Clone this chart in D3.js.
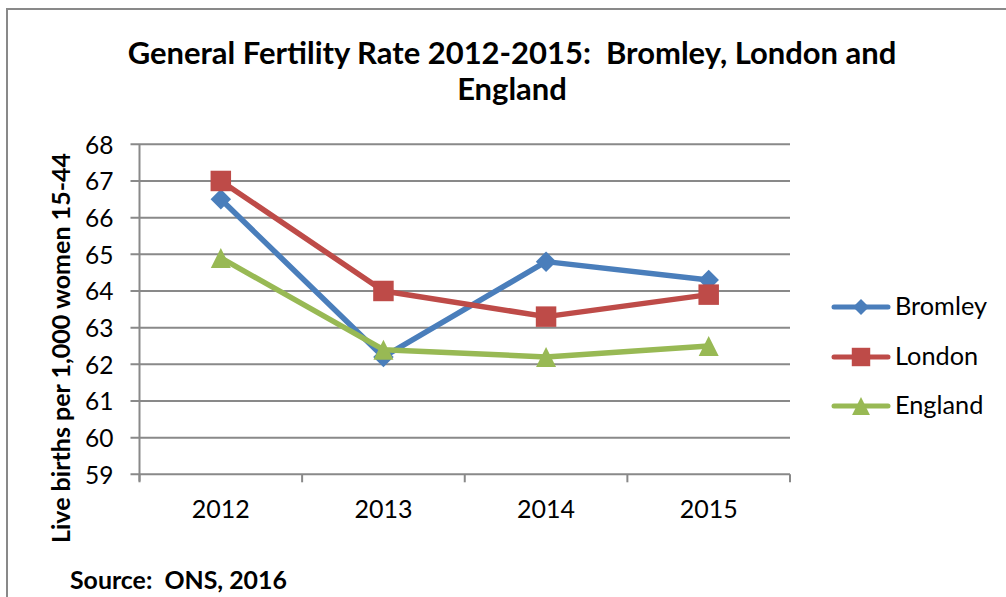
<!DOCTYPE html>
<html>
<head>
<meta charset="utf-8">
<script src="https://cdn.jsdelivr.net/npm/d3@7/dist/d3.min.js"></script>
<style>
  html, body { margin: 0; padding: 0; background: #fff; }
  svg { display: block; }
  text { font-family: Lato, "Open Sans", "DejaVu Sans", sans-serif; fill: #000; white-space: pre; }
</style>
</head>
<body>
<svg id="chart" width="1006" height="597"></svg>
<script>
// ---- data ----
const years = ["2012", "2013", "2014", "2015"];
const bromley = [66.5, 62.2, 64.8, 64.3];
const london = [67.0, 64.0, 63.3, 63.9];
const england = [64.9, 62.4, 62.2, 62.5];
const seriesNames = ["Bromley", "London", "England"];
const yTicks = [59, 60, 61, 62, 63, 64, 65, 66, 67, 68];
const titleLines = ["General Fertility Rate 2012-2015:  Bromley, London and", "England"];
const yLabel = "Live births per 1,000 women 15-44";
const sourceText = "Source:  ONS, 2016";

(function () {
// custom marker shapes (Excel style)
const diamond = { draw(ctx, size) { const r = Math.sqrt(size) / 2;
  ctx.moveTo(0, -r); ctx.lineTo(r, 0); ctx.lineTo(0, r); ctx.lineTo(-r, 0); ctx.closePath(); } };
const triangle = { draw(ctx, size) { const r = Math.sqrt(size) / 2;
  ctx.moveTo(0, -r); ctx.lineTo(r, r); ctx.lineTo(-r, r); ctx.closePath(); } };

const series = [
  { name: seriesNames[0], values: bromley, color: "#4A7EBB", shape: diamond, size: 420, lsize: 256 },
  { name: seriesNames[1], values: london, color: "#BE4B48", shape: d3.symbolSquare, size: 420, lsize: 340 },
  { name: seriesNames[2], values: england, color: "#98B954", shape: triangle, size: 400, lsize: 320 }
];

const svg = d3.select("#chart");
const gray = "#898989";

// outer frame
svg.append("rect").attr("x", 7).attr("y", 9).attr("width", 1010).attr("height", 600)
  .attr("fill", "none").attr("stroke", gray).attr("stroke-width", 2);

// fit text width helper
function fit(sel, target) {
  const node = sel.node();
  const fs = parseFloat(sel.attr("font-size"));
  const w = node.getComputedTextLength();
  sel.attr("font-size", (fs * target / w).toFixed(2));
  return fs * target / w;
}

// title
const t1 = svg.append("text").attr("x", 512).attr("y", 64).attr("text-anchor", "middle")
  .attr("font-weight", "bold").attr("font-size", 26).text(titleLines[0]);
fit(t1, 769);
svg.append("text").attr("x", 512).attr("y", 100).attr("text-anchor", "middle")
  .attr("font-weight", "bold").attr("font-size", t1.attr("font-size")).text(titleLines[1]);

// scales
const pLeft = 139.5, pRight = 790, pTop = 144.3, pBottom = 474.3;
const x = d3.scaleBand().domain(years).range([pLeft, pRight]);
const y = d3.scaleLinear().domain([59, 68]).range([pBottom, pTop]);

// gridlines + y ticks
svg.append("g").selectAll("line").data(yTicks).join("line")
  .attr("x1", pLeft - 9).attr("x2", pRight)
  .attr("y1", d => y(d)).attr("y2", d => y(d))
  .attr("stroke", gray).attr("stroke-width", 2);

// y axis line
svg.append("line").attr("x1", pLeft).attr("x2", pLeft).attr("y1", pTop).attr("y2", pBottom + 7)
  .attr("stroke", gray).attr("stroke-width", 2);

// x tick marks at band edges
const edges = years.map(d => x(d)).concat([pRight]);
svg.append("g").selectAll("line").data(edges).join("line")
  .attr("x1", d => d).attr("x2", d => d).attr("y1", pBottom).attr("y2", pBottom + 8)
  .attr("stroke", gray).attr("stroke-width", 2);

// y tick labels via axis
const yAxis = svg.append("g").attr("transform", `translate(${pLeft - 26},0)`)
  .call(d3.axisLeft(y).tickValues(yTicks).tickSize(0).tickPadding(0).tickFormat(d3.format("d")));
yAxis.select(".domain").remove();
yAxis.selectAll("text").attr("font-size", 24.5).attr("font-family", "Lato, sans-serif")
  .attr("fill", "#000").attr("dy", "0.36em");

// x labels via axis
const xAxis = svg.append("g").attr("transform", `translate(0,${pBottom})`)
  .call(d3.axisBottom(x).tickSize(0).tickPadding(0));
xAxis.select(".domain").remove();
xAxis.selectAll("text").attr("font-size", 25).attr("font-family", "Lato, sans-serif")
  .attr("fill", "#000").attr("dy", 0).attr("y", 44);

// lines + markers
const line = d3.line().x((d, i) => x(years[i]) + x.bandwidth() / 2).y(d => y(d));
series.forEach(s => {
  svg.append("path").datum(s.values).attr("d", line)
    .attr("fill", "none").attr("stroke", s.color).attr("stroke-width", 5.5)
    .attr("stroke-linejoin", "round");
});
series.forEach(s => {
  svg.append("g").selectAll("path").data(s.values).join("path")
    .attr("transform", (d, i) => `translate(${x(years[i]) + x.bandwidth() / 2},${y(d)})`)
    .attr("d", d3.symbol().type(s.shape).size(s.size))
    .attr("fill", s.color);
});

// legend
const legendY = [307, 357, 406];
let legendFs = null;
series.forEach((s, i) => {
  const g = svg.append("g").attr("transform", `translate(0,${legendY[i]})`);
  g.append("line").attr("x1", 834).attr("x2", 888).attr("y1", 0).attr("y2", 0)
    .attr("stroke", s.color).attr("stroke-width", 5).attr("stroke-linecap", "round");
  g.append("path").attr("transform", `translate(861,0)`)
    .attr("d", d3.symbol().type(s.shape).size(s.lsize)).attr("fill", s.color);
  const t = g.append("text").attr("x", 895).attr("y", 8).attr("font-size", 23).text(s.name);
  if (legendFs === null) legendFs = fit(t, 92); else t.attr("font-size", legendFs.toFixed(2));
});

// y label
const yl = svg.append("text").attr("transform", "translate(70,348) rotate(-90)")
  .attr("text-anchor", "middle").attr("font-weight", "bold").attr("font-size", 22).text(yLabel);
fit(yl, 390);

// source
const src = svg.append("text").attr("x", 70).attr("y", 589).attr("font-weight", "bold")
  .attr("font-size", 20).text(sourceText);
fit(src, 217);
})();
</script>
</body>
</html>
